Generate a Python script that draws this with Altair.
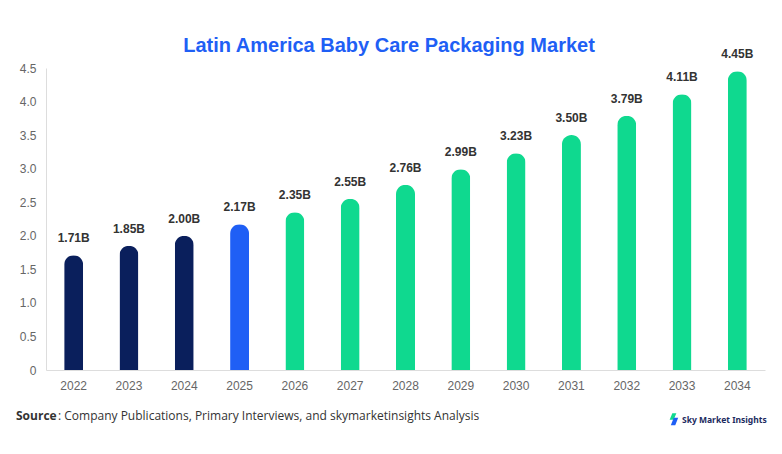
import altair as alt
import pandas as pd

years = ["2022", "2023", "2024", "2025", "2026", "2027", "2028", "2029", "2030", "2031", "2032", "2033", "2034"]
values = [1.71, 1.85, 2.00, 2.17, 2.35, 2.55, 2.76, 2.99, 3.23, 3.50, 3.79, 4.11, 4.45]
periods = ["Historic"] * 3 + ["Base"] + ["Forecast"] * 9
labels = [f"{v:.2f}B" for v in values]

title_text = "Latin America Baby Care Packaging Market"
source_bold = "Source"
source_rest = ": Company Publications, Primary Interviews, and skymarketinsights Analysis"
brand = "Sky Market Insights"

df = pd.DataFrame({"year": years, "value": values, "period": periods, "label": labels})

W, H = 719, 302

x = alt.X("year:N", sort=years, scale=alt.Scale(paddingInner=0, paddingOuter=0),
          axis=alt.Axis(title=None, labelAngle=0, ticks=False, labelPadding=10,
                        domainColor="#dddddd", labelColor="#666666", labelFontSize=12,
                        labelFont="Liberation Sans"))
y = alt.Y("value:Q", scale=alt.Scale(domain=[0, 4.5], nice=False),
          axis=alt.Axis(title=None, values=[0, 0.5, 1, 1.5, 2, 2.5, 3, 3.5, 4, 4.5],
                        labelExpr="datum.value == 0 ? '0' : format(datum.value, '.1f')",
                        ticks=False, grid=False, labelPadding=10, domainColor="#dddddd",
                        labelColor="#666666", labelFontSize=12, labelFont="Liberation Sans"))

base = alt.Chart(df)

bars = base.mark_bar(size=19, cornerRadiusTopLeft=9.5, cornerRadiusTopRight=9.5).encode(
    x=x, y=y,
    color=alt.Color("period:N",
                    scale=alt.Scale(domain=["Historic", "Base", "Forecast"],
                                    range=["#0a1f5c", "#1f5ff5", "#0fd98f"]),
                    legend=None),
)

text = base.mark_text(baseline="bottom", dy=-10, fontWeight="bold", fontSize=12,
                      font="Liberation Sans", color="#333333").encode(
    x=x, y=y, text="label:N")

ttl = alt.Chart(pd.DataFrame({"t": [title_text]})).mark_text(
    align="center", baseline="alphabetic", fontWeight="bold", fontSize=20,
    font="Liberation Sans", color="#1f5ff5").encode(
    x=alt.value(343), y=alt.value(-16), text="t:N")
src_b = alt.Chart(pd.DataFrame({"t": [source_bold]})).mark_text(
    align="left", baseline="middle", fontWeight="bold", fontSize=12, font="Open Sans",
    color="#333333").encode(x=alt.value(-30), y=alt.value(348), text="t:N")
src_r = alt.Chart(pd.DataFrame({"t": [source_rest]})).mark_text(
    align="left", baseline="middle", fontSize=12, font="Open Sans",
    color="#333333").encode(x=alt.value(12), y=alt.value(348), text="t:N")
logo_t = alt.Chart(pd.DataFrame({"t": [brand]})).mark_text(
    align="left", baseline="middle", fontWeight="bold", fontSize=8.5, font="Noto Sans",
    color="#1b2a5e").encode(x=alt.value(636), y=alt.value(351.5), text="t:N")
icon_g = alt.Chart(pd.DataFrame({"t": [1]})).mark_point(
    shape="M -0.2 -1 L 1 -1 L 0.2 1 L -1 1 Z", filled=True, opacity=1, size=45,
    color="#0fd98f").encode(x=alt.value(627), y=alt.value(348.5))
icon_b = alt.Chart(pd.DataFrame({"t": [1]})).mark_point(
    shape="M -0.2 -1 L 1 -1 L 0.2 1 L -1 1 Z", filled=True, opacity=1, size=55,
    color="#1f5ff5").encode(x=alt.value(628.5), y=alt.value(353.5))

chart = alt.layer(bars, text, ttl, src_b, src_r, icon_g, icon_b, logo_t).properties(
    width=W, height=H,
    autosize=alt.AutoSizeParams(type="none"),
    padding={"left": 38, "top": 60, "right": 9, "bottom": 70},
    background="white",
).configure_view(stroke=None)

chart.save("out.html", embed_options={"renderer": "svg", "actions": False})
